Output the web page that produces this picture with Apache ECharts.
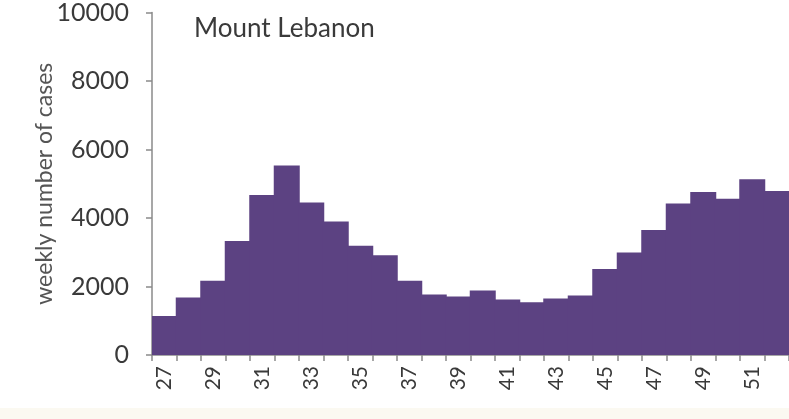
<!DOCTYPE html>
<html>
<head>
<meta charset="utf-8">
<script src="https://cdn.jsdelivr.net/npm/echarts@6/dist/echarts.min.js"></script>
<style>
html,body{margin:0;padding:0;background:#ffffff;}
#chart{width:789px;height:419px;}
</style>
</head>
<body>
<div id="chart"></div>
<script>
const weeks = ['27','28','29','30','31','32','33','34','35','36','37','38','39','40','41','42','43','44','45','46','47','48','49','50','51','52'];
const weeklyCases = [1140,1680,2170,3330,4670,5530,4450,3900,3190,2910,2170,1770,1710,1880,1620,1540,1650,1740,2510,2990,3650,4420,4760,4560,5130,4790];
const yTicks = {min:0, max:10000, interval:2000};
const titleText = 'Mount Lebanon';
const yName = 'weekly number of cases';

const chart = echarts.init(document.getElementById('chart'), null, {renderer:'canvas'});
chart.setOption({
  animation:false,
  backgroundColor:'#ffffff',
  title:{text:titleText, left:189, top:11, textStyle:{fontFamily:'Lato', fontSize:26, fontWeight:'normal', color:'#3a3a3a'}},
  graphic:[{type:'rect', shape:{x:0,y:408,width:789,height:11}, style:{fill:'#fbf9f1'}, z:-10}],
  grid:{left:152, right:0, top:4, bottom:64, containLabel:false},
  xAxis:{
    type:'category', data:weeks, boundaryGap:true,
    axisLine:{lineStyle:{color:'#8a8a8a', width:1.5}},
    axisTick:{show:true, interval:0, length:6, lineStyle:{color:'#8a8a8a', width:1.5}},
    axisLabel:{interval:1, rotate:90, margin:11, fontFamily:'Lato', fontSize:21, color:'#3a3a3a'}
  },
  yAxis:{
    type:'value', min:yTicks.min, max:yTicks.max, interval:yTicks.interval,
    name:yName, nameLocation:'middle', nameGap:96, nameMoveOverlap:false,
    nameTextStyle:{fontFamily:'Lato', fontSize:23, color:'#555555'},
    axisLine:{show:true, lineStyle:{color:'#8a8a8a', width:1.5}},
    axisTick:{show:true, length:6, lineStyle:{color:'#8a8a8a', width:1.5}},
    splitLine:{show:false},
    axisLabel:{margin:23, fontFamily:'Lato', fontSize:25, color:'#3a3a3a', formatter:function(v){return String(v);}}
  },
  series:[{type:'bar', data:weeklyCases, barWidth:26, itemStyle:{color:'#5c4282'}}]
});
</script>
</body>
</html>
